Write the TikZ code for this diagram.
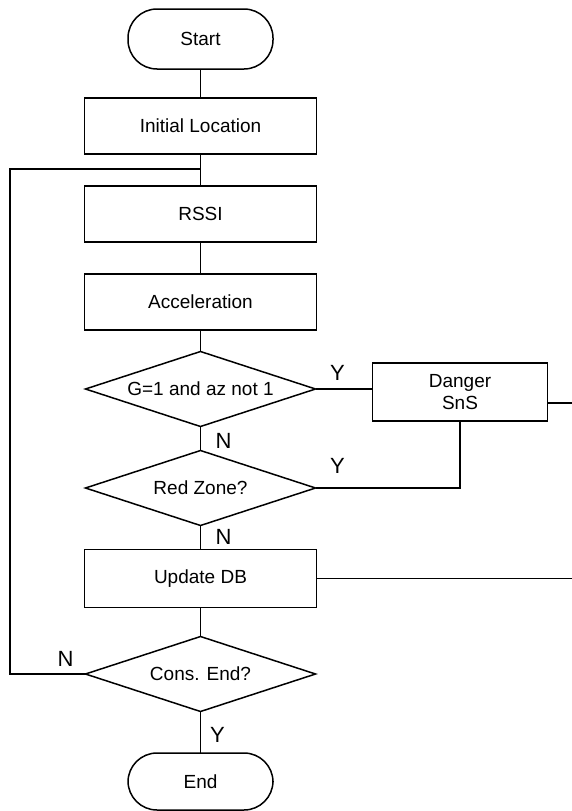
\documentclass[tikz,border=0pt]{standalone}
\usepackage{fontspec}
\setmainfont{Liberation Sans}
\usetikzlibrary{positioning,shapes.geometric}

\begin{document}
\begin{tikzpicture}[
  x=1pt, y=1pt, line width=1.5pt,
  node distance=32pt and 57pt,
  terminal/.style={draw, outer sep=0pt, rounded corners=29pt, minimum width=145pt, minimum height=60pt, font=\fontsize{19}{22}\selectfont},
  process/.style={draw, outer sep=0pt, align=center, minimum width=232pt, minimum height=56pt, font=\fontsize{19}{22}\selectfont},
  decision/.style={draw, outer sep=0pt, diamond, aspect=3, inner sep=0pt, minimum width=230pt, minimum height=75pt, font=\fontsize{19}{22}\selectfont},
  yn/.style={inner sep=0pt, font=\fontsize{22}{24}\selectfont}
]
\useasboundingbox (0,0) rectangle (572,-811);
\node[terminal] (start) at (200.5,-39) {Start};
\node[process,below=29pt of start] (init) {Initial Location};
\node[process,below=of init] (rssi) {RSSI};
\node[process,below=of rssi] (accel) {Acceleration};
\node[decision,below=21.5pt of accel] (gcheck) {G=1 and az not 1};
\node[process,right=57pt of gcheck,yshift=-3pt,minimum width=175pt,minimum height=58pt] (danger) {Danger\\SnS};
\node[decision,below=24pt of gcheck] (redzone) {Red Zone?};
\node[process,below=24pt of redzone,minimum height=58pt] (update) {Update DB};
\node[decision,below=29pt of update] (consend) {Cons. End?};
\node[terminal,below=41.5pt of consend,minimum height=57pt] (end) {End};
% right rim and loop corner
\coordinate (rim) at (572,0);
\coordinate (loop) at (10,-169);
\draw (start) -- (init);
\draw (init) -- (rssi);
\draw (rssi) -- (accel);
\draw (accel) -- (gcheck);
\draw (gcheck.east) -- (gcheck.east -| danger.west);
\draw (gcheck) -- (redzone);
\draw (danger.south) |- (redzone.east);
\draw ([yshift=-11pt]danger.east) -- ([yshift=-11pt]danger.east -| rim);
\draw (redzone) -- (update);
\draw (update.east) -- (update.east -| rim);
\draw (update) -- (consend);
\draw (consend) -- (end);
\draw (consend.west) -| (loop) -- (loop -| init.south);
% branch labels
\node[yn] (y1) at ([xshift=22pt,yshift=16pt]gcheck.east) {Y};
\node[yn] (n1) at ([xshift=23pt,yshift=-14pt]gcheck.south) {N};
\node[yn] (y2) at ([xshift=22pt,yshift=22.5pt]redzone.east) {Y};
\node[yn] (n2) at ([xshift=23pt,yshift=-11pt]redzone.south) {N};
\node[yn] (n3) at ([xshift=-20pt,yshift=15pt]consend.west) {N};
\node[yn] (y3) at ([xshift=17pt,yshift=-23pt]consend.south) {Y};
\end{tikzpicture}
\end{document}
